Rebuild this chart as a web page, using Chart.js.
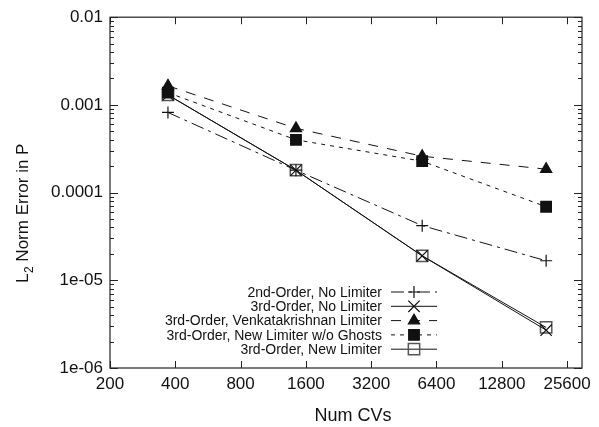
<!DOCTYPE html>
<html>
<head>
<meta charset="utf-8">
<script src="https://cdn.jsdelivr.net/npm/chart.js@4.4.1/dist/chart.umd.min.js"></script>
<style>
  html, body { margin: 0; padding: 0; background: #fff; }
  #wrap { width: 599px; height: 427px; }
</style>
</head>
<body>
<div id="wrap"><canvas id="chart"></canvas></div>
<script>
// data
const numCVs = [370, 1440, 5500, 20500];
const secondNoLimiter = [0.00082, 0.00018, 0.000042, 0.0000167];
const thirdNoLimiter = [0.0013, 0.00018, 0.000019, 0.0000027];
const thirdVenkat = [0.00165, 0.00054, 0.00026, 0.000185];
const thirdNoGhosts = [0.00138, 0.0004, 0.000228, 0.000069];
const thirdNewLimiter = [0.0013, 0.00018, 0.000019, 0.0000029];

const xTicks = [200, 400, 800, 1600, 3200, 6400, 12800, 25600];
const yTicks = [1e-6, 1e-5, 1e-4, 1e-3, 1e-2];
const yTickLabels = ["1e-06", "1e-05", "0.0001", "0.001", "0.01"];

const seriesNames = [
  "2nd-Order, No Limiter",
  "3rd-Order, No Limiter",
  "3rd-Order, Venkatakrishnan Limiter",
  "3rd-Order, New Limiter w/o Ghosts",
  "3rd-Order, New Limiter",
];

const pts = (ys) => numCVs.map((x, i) => ({ x: x, y: ys[i] }));
const FONT = "'Liberation Sans', Arial, sans-serif";

const datasets = [
  { label: seriesNames[0], data: pts(secondNoLimiter), borderColor: "#111", borderDash: [13, 5, 3, 5],
    pointStyle: "cross", pointRadius: 6, pointBorderColor: "#111", pointBackgroundColor: "#111" },
  { label: seriesNames[1], data: pts(thirdNoLimiter), borderColor: "#111", borderDash: [],
    pointStyle: "crossRot", pointRadius: 8, pointBorderColor: "#111", pointBackgroundColor: "#111" },
  { label: seriesNames[2], data: pts(thirdVenkat), borderColor: "#111", borderDash: [10, 9],
    pointStyle: "triangle", pointRadius: 6.5, pointBorderColor: "#111", pointBackgroundColor: "#111" },
  { label: seriesNames[3], data: pts(thirdNoGhosts), borderColor: "#111", borderDash: [4, 5],
    pointStyle: "rect", pointRadius: 7.5, pointBorderColor: "#111", pointBackgroundColor: "#111" },
  { label: seriesNames[4], data: pts(thirdNewLimiter), borderColor: "#111", borderDash: [],
    pointStyle: "rect", pointRadius: 8, pointBorderColor: "#555", pointBackgroundColor: "rgba(0,0,0,0)",
    pointBorderWidth: 1.5 },
];
datasets.forEach(d => { d.borderWidth = 1; d.fill = false; d.tension = 0; if (!d.pointBorderWidth) d.pointBorderWidth = 1.2; });

// gnuplot-like frame with inward ticks on all sides, plus axis titles and key
const framePlugin = {
  id: "frame",
  afterDatasetsDraw(chart) {
    const { ctx, chartArea: a, scales } = chart;
    const x = scales.x, y = scales.y;
    ctx.save();
    ctx.strokeStyle = "#222";
    ctx.lineWidth = 1.2;
    ctx.strokeRect(a.left, a.top, a.right - a.left, a.bottom - a.top);
    ctx.lineWidth = 1;
    ctx.beginPath();
    xTicks.forEach(v => {
      const px = Math.round(x.getPixelForValue(v)) + 0.5;
      ctx.moveTo(px, a.bottom); ctx.lineTo(px, a.bottom - 7);
      ctx.moveTo(px, a.top); ctx.lineTo(px, a.top + 7);
    });
    for (let i = 0; i < yTicks.length; i++) {
      const d = yTicks[i];
      const py = Math.round(y.getPixelForValue(d)) + 0.5;
      ctx.moveTo(a.left, py); ctx.lineTo(a.left + 8, py);
      ctx.moveTo(a.right, py); ctx.lineTo(a.right - 8, py);
      if (i === yTicks.length - 1) break;
      for (let m = 2; m <= 9; m++) {
        const my = Math.round(y.getPixelForValue(m * d)) + 0.5;
        ctx.moveTo(a.left, my); ctx.lineTo(a.left + 4, my);
        ctx.moveTo(a.right, my); ctx.lineTo(a.right - 4, my);
      }
    }
    ctx.stroke();
    ctx.restore();
  },
  afterDraw(chart) {
    const { ctx } = chart;
    ctx.save();
    ctx.fillStyle = "#111";

    // x title
    ctx.font = "18px " + FONT;
    ctx.textAlign = "center";
    ctx.textBaseline = "alphabetic";
    ctx.fillText("Num CVs", 353, 421);

    // y title with a real subscript
    ctx.save();
    ctx.translate(28, 283);
    ctx.rotate(-Math.PI / 2);
    ctx.textAlign = "left";
    ctx.font = "17px " + FONT;
    ctx.fillText("L", 0, 0);
    let w = ctx.measureText("L").width;
    ctx.font = "12px " + FONT;
    ctx.fillText("2", w + 0.5, 4.5);
    w += ctx.measureText("2").width + 0.5;
    ctx.font = "17px " + FONT;
    ctx.fillText(" Norm Error in P", w, 0);
    ctx.restore();

    // key: text right-aligned, sample line + marker to its right
    const textRight = 382, lineL = 391, lineR = 437, mid = 414;
    const top = 292, step = 14.3;
    ctx.font = "14px " + FONT;
    ctx.textAlign = "right";
    ctx.textBaseline = "middle";
    chart.data.datasets.forEach((d, i) => {
      const yy = top + i * step;
      ctx.fillStyle = "#111";
      ctx.fillText(d.label, textRight, yy + 1);
      ctx.strokeStyle = d.borderColor;
      ctx.lineWidth = 1;
      ctx.setLineDash(d.borderDash);
      ctx.beginPath();
      ctx.moveTo(lineL, yy); ctx.lineTo(lineR, yy);
      ctx.stroke();
      ctx.setLineDash([]);
      ctx.strokeStyle = d.pointBorderColor;
      ctx.fillStyle = d.pointBackgroundColor;
      ctx.lineWidth = d.pointBorderWidth;
      Chart.helpers.drawPoint(ctx, { pointStyle: d.pointStyle, radius: d.pointRadius, rotation: 0,
        borderWidth: d.pointBorderWidth }, mid, yy);
    });
    ctx.restore();
  }
};

new Chart(document.getElementById("chart"), {
  type: "line",
  data: { datasets: datasets },
  options: {
    responsive: true,
    maintainAspectRatio: false,
    animation: false,
    layout: { padding: { top: 15, right: 17, left: 0, bottom: 0 } },
    plugins: { legend: { display: false }, tooltip: { enabled: false } },
    scales: {
      x: {
        type: "logarithmic",
        min: 200,
        max: 30000,
        grid: { display: false, drawTicks: false },
        border: { display: false },
        afterBuildTicks: (s) => { s.ticks = xTicks.map(v => ({ value: v })); },
        afterFit: (s) => { s.height = 59; },
        ticks: { color: "#111", padding: 6, maxRotation: 0, autoSkip: false,
          font: { family: FONT, size: 17 }, callback: (v) => String(v) }
      },
      y: {
        type: "logarithmic",
        min: 1e-6,
        max: 1e-2,
        grid: { display: false, drawTicks: false },
        border: { display: false },
        afterBuildTicks: (s) => { s.ticks = yTicks.map(v => ({ value: v })); },
        afterFit: (s) => { s.width = 110; },
        ticks: { color: "#111", padding: 7, autoSkip: false,
          font: { family: FONT, size: 17 },
          callback: (v) => yTickLabels[yTicks.indexOf(v)] }
      }
    }
  },
  plugins: [framePlugin]
});
</script>
</body>
</html>
